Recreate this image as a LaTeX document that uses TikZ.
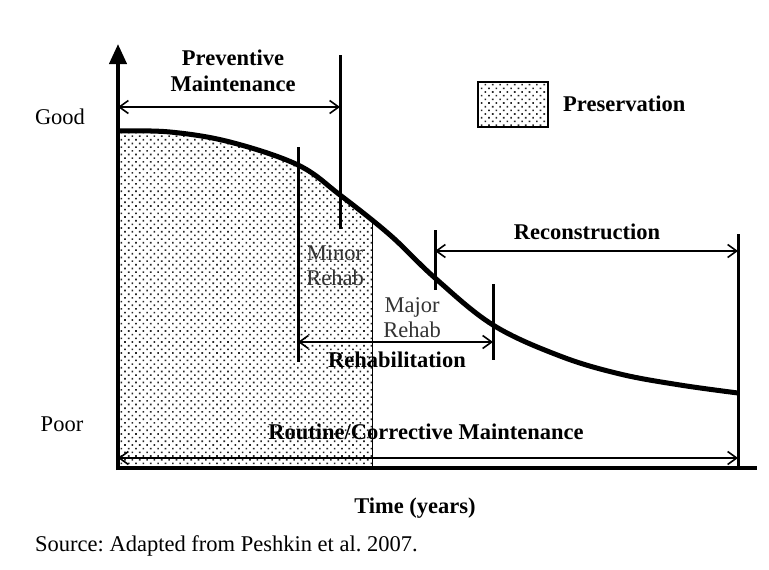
\documentclass[tikz,border=0pt]{standalone}
\usepackage{fontspec}
\setmainfont{Liberation Serif}
\usetikzlibrary{arrows.meta,patterns.meta}
\frenchspacing

\tikzset{
  lbl/.style={inner sep=0pt, font=\fontsize{22.5}{25}\selectfont},
  head/.style={lbl, font=\fontsize{22.5}{25}\selectfont\bfseries, align=center},
  span/.style={line width=1.6pt, {Straight Barb[length=9pt,width=13pt]}-{Straight Barb[length=9pt,width=13pt]}},
  tick/.style={line width=3pt},
  dotfill/.style={pattern={Dots[distance=5.2pt, angle=45, radius=1.15pt]}, pattern color=black!85}
}

\begin{document}
\begin{tikzpicture}[x=1pt, y=-1pt]
  \useasboundingbox (0,0) rectangle (769,570);

  % preserved area under the curve
  \begin{scope}
    \clip plot[smooth, tension=0.6] coordinates {(118,131) (170,132) (230,142) (298,165) (340,195) (390,235) (435,278) (493,325) (560,356) (620,374) (680,385) (738,393)}
      -- (738,468) -- (118,468) -- cycle;
    \fill[dotfill] (118,100) rectangle (372,468);
    \draw[line width=1pt] (372,100) -- (372,468);
  \end{scope}

  % axes
  \draw[line width=4pt] (118,468) -- (757,468);
  \draw[line width=4pt, -{Triangle[length=20pt,width=17pt]}] (118,470) -- (118,44);

  % condition curve
  \draw[line width=5pt] plot[smooth, tension=0.6] coordinates {(118,131) (170,132) (230,142) (298,165) (340,195) (390,235) (435,278) (493,325) (560,356) (620,374) (680,385) (738,393)};

  % tick marks
  \coordinate (pmL) at (118,107);
  \coordinate (pmR) at (340,107);
  \coordinate (rhL) at (298,342);
  \coordinate (rhR) at (493,342);
  \coordinate (rcL) at (435,251);
  \coordinate (rcR) at (738,251);
  \coordinate (rtL) at (118,458);
  \coordinate (rtR) at (738,458);
  \draw[tick] (340,55) -- (340,229);
  \draw[tick] (298,147) -- (298,362);
  \draw[tick] (435,230) -- (435,290);
  \draw[tick] (493,284) -- (493,360);
  \draw[tick] (738,234) -- (738,468);

  % spans
  \draw[span] (pmL) -- (pmR);
  \draw[span] (rcL) -- (rcR);
  \draw[span] (rhL) -- (rhR);
  \draw[span] (rtL) -- (rtR);

  % labels
  \node[head] (prev) at (233,71) {Preventive\\[1pt]Maintenance};
  \node[head] (recon) at (587,232) {Reconstruction};
  \node[head] (rehab) at (397,360) {Rehabilitation};
  \node[head] (routine) at (426,432) {Routine/Corrective Maintenance};
  \node[lbl, align=center, text=black!80] (minor) at (335,266) {Minor\\[0pt]Rehab};
  \node[lbl, align=center, text=black!80] (major) at (412,318) {Major\\[0pt]Rehab};
  \node[lbl] (good) at (60,117) {Good};
  \node[lbl] (poor) at (62,424) {Poor};
  \node[head] (time) at (415,508) {Time (years)};
  \node[lbl, anchor=west] (src) at (35,546) {Source: Adapted from Peshkin et al. 2007.};

  % legend
  \draw[dotfill] (478,82) rectangle (548,127);
  \draw[line width=2pt] (478,82) rectangle (548,127);
  \node[head, anchor=west] (pres) at (563,104) {Preservation};
\end{tikzpicture}
\end{document}
